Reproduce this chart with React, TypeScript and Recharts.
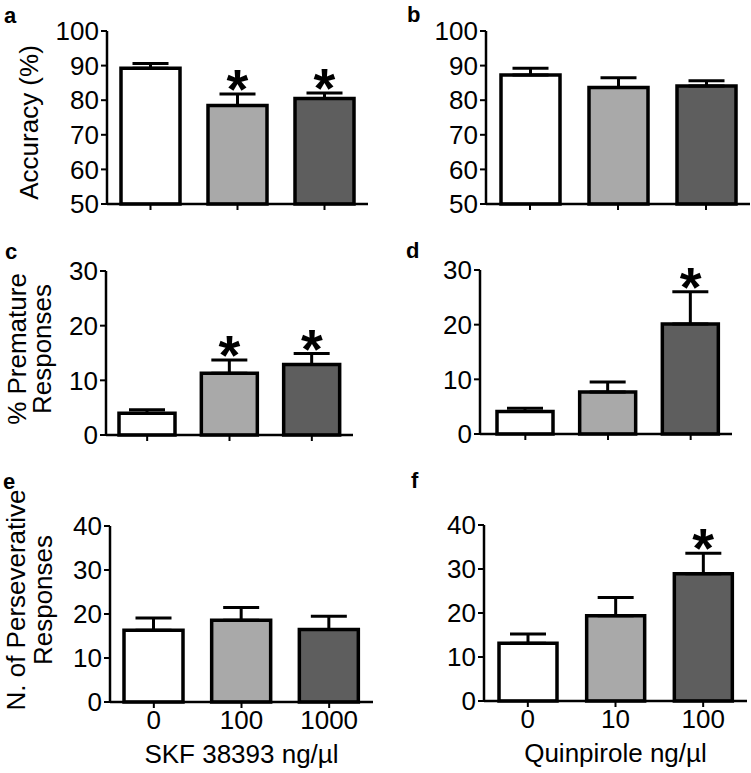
import { ComposedChart, Bar, Cell, ErrorBar, Line, XAxis, YAxis } from "recharts";

const FONT = "'Liberation Sans', Arial, sans-serif";
const FILLS = ["#ffffff", "#a9a9a9", "#5e5e5e"];

const skfDoses = ["0", "100", "1000"];
const quinDoses = ["0", "10", "100"];

// accuracy (%)
const accSkfMean = [89.2, 78.5, 80.5];
const accSkfSem = [1.4, 3.3, 1.6];
const accSkfSig = [false, true, true];
const accQuinMean = [87.3, 83.7, 84.1];
const accQuinSem = [1.9, 2.8, 1.5];
const accQuinSig = [false, false, false];

// % premature responses
const premSkfMean = [4.0, 11.3, 12.9];
const premSkfSem = [0.6, 2.4, 2.0];
const premSkfSig = [false, true, true];
const premQuinMean = [4.1, 7.7, 20.1];
const premQuinSem = [0.6, 1.8, 5.9];
const premQuinSig = [false, false, true];

// n. of perseverative responses
const persSkfMean = [16.3, 18.6, 16.5];
const persSkfSem = [2.8, 2.9, 3.0];
const persSkfSig = [false, false, false];
const persQuinMean = [13.1, 19.4, 28.9];
const persQuinSem = [2.1, 4.1, 4.7];
const persQuinSig = [false, false, true];

const accTicks = [50, 60, 70, 80, 90, 100];
const premTicks = [0, 10, 20, 30];
const persTicks = [0, 10, 20, 30, 40];

type Row = { dose: string; mean: number; err: [number, number]; star: number | null };

const buildRows = (doses: string[], mean: number[], sem: number[], sig: boolean[]): Row[] =>
  doses.map((dose, i) => ({
    dose,
    mean: mean[i],
    err: [0, sem[i]],
    star: sig[i] ? mean[i] + sem[i] : null,
  }));

const StarDot = (props: any) => {
  const { cx, cy, payload } = props;
  if (!payload || payload.star == null || cy == null) return <g key={props.index} />;
  return (
    <text key={props.index} x={cx} y={cy + 14} textAnchor="middle" fontSize={56} fontWeight="bold" fontFamily={FONT} fill="#000">
      *
    </text>
  );
};

type Box = { left: number; top: number; width: number; height: number };
type Plot = { x0: number; x1: number; y0: number; y1: number };

interface PanelProps {
  rows: Row[];
  domain: [number, number];
  ticks: number[];
  cell: Box;
  plot: Plot;
  barSize: number;
  padLeft?: number;
  yTitle?: string[];
  yTitleX?: number[];
  yTitleDy?: number;
  xTitle?: string;
  showXLabels?: boolean;
}

function Panel({ rows, domain, ticks, cell, plot, barSize, padLeft = 0, yTitle, yTitleX, yTitleDy = 0, xTitle, showXLabels }: PanelProps) {
  const margin = {
    top: plot.y0 - cell.top,
    right: cell.left + cell.width - plot.x1,
    left: 0,
    bottom: 0,
  };
  const yAxisWidth = plot.x0 - cell.left;
  const xAxisHeight = cell.top + cell.height - plot.y1;

  const yLabel = (p: any) => {
    if (!yTitle || !yTitleX) return null;
    const vb = p.viewBox;
    const cy = vb.y + vb.height / 2 + yTitleDy;
    return (
      <g>
        {yTitle.map((line, i) => (
          <text
            key={line}
            x={yTitleX[i]}
            y={cy}
            transform={`rotate(-90 ${yTitleX[i]} ${cy})`}
            textAnchor="middle"
            fontSize={26}
            fontFamily={FONT}
            fill="#000"
          >
            {line}
          </text>
        ))}
      </g>
    );
  };

  const xLabel = (p: any) => {
    if (!xTitle) return null;
    const vb = p.viewBox;
    return (
      <text x={vb.x + vb.width / 2} y={vb.y + 61} textAnchor="middle" fontSize={26} fontFamily={FONT} fill="#000">
        {xTitle}
      </text>
    );
  };

  return (
    <div style={{ position: "absolute", left: cell.left, top: cell.top }}>
      <ComposedChart width={cell.width} height={cell.height} data={rows} margin={margin}>
        <XAxis
          dataKey="dose"
          height={xAxisHeight}
          padding={{ left: padLeft, right: 0 }}
          axisLine={{ stroke: "#000", strokeWidth: 2.5 }}
          tickLine={{ stroke: "#000", strokeWidth: 2 }}
          tickSize={6}
          tickMargin={3}
          tick={{ fontSize: 26, fill: "#000", fontFamily: FONT }}
          tickFormatter={(v: string) => (showXLabels ? v : "")}
          interval={0}
          label={xTitle ? { content: xLabel } : undefined}
        />
        <YAxis
          type="number"
          domain={domain}
          ticks={ticks}
          width={yAxisWidth}
          axisLine={{ stroke: "#000", strokeWidth: 2.5 }}
          tickLine={{ stroke: "#000", strokeWidth: 2 }}
          tickSize={6}
          tickMargin={2}
          tick={{ fontSize: 26, fill: "#000", fontFamily: FONT }}
          interval={0}
          label={yTitle ? { content: yLabel } : undefined}
        />
        <Bar dataKey="mean" barSize={barSize} stroke="#000" strokeWidth={3.5} isAnimationActive={false}>
          {rows.map((r, i) => (
            <Cell key={r.dose} fill={FILLS[i]} />
          ))}
          <ErrorBar dataKey="err" width={18} stroke="#000" strokeWidth={3} />
        </Bar>
        <Line
          dataKey="star"
          stroke="none"
          isAnimationActive={false}
          dot={(p: any) => <StarDot key={p.index} {...p} />}
          activeDot={false}
          connectNulls={false}
        />
      </ComposedChart>
    </div>
  );
}

const letterStyle = (left: number, top: number): React.CSSProperties => ({
  position: "absolute",
  left,
  top,
  fontFamily: FONT,
  fontWeight: "bold",
  fontSize: 22,
  lineHeight: "22px",
});

export default function App() {
  return (
    <div style={{ position: "absolute", left: 0, top: 0, width: 751, height: 773, background: "#fff", overflow: "hidden" }}>
      <Panel
        rows={buildRows(skfDoses, accSkfMean, accSkfSem, accSkfSig)}
        domain={[50, 100]}
        ticks={accTicks}
        cell={{ left: 0, top: 0, width: 378, height: 230 }}
        plot={{ x0: 107, x1: 368, y0: 31, y1: 204 }}
        barSize={59}
        yTitle={["Accuracy (%)"]}
        yTitleX={[38]}
        yTitleDy={5}
      />
      <Panel
        rows={buildRows(quinDoses, accQuinMean, accQuinSem, accQuinSig)}
        domain={[50, 100]}
        ticks={accTicks}
        cell={{ left: 378, top: 0, width: 373, height: 230 }}
        plot={{ x0: 486, x1: 750, y0: 31, y1: 204 }}
        barSize={59}
      />
      <Panel
        rows={buildRows(skfDoses, premSkfMean, premSkfSem, premSkfSig)}
        domain={[0, 30]}
        ticks={premTicks}
        cell={{ left: 0, top: 235, width: 378, height: 225 }}
        plot={{ x0: 106, x1: 353, y0: 271, y1: 435 }}
        barSize={56}
        yTitle={["% Premature", "Responses"]}
        yTitleX={[26, 51]}
        yTitleDy={-4}
      />
      <Panel
        rows={buildRows(quinDoses, premQuinMean, premQuinSem, premQuinSig)}
        domain={[0, 30]}
        ticks={premTicks}
        cell={{ left: 378, top: 235, width: 373, height: 225 }}
        plot={{ x0: 480, x1: 732, y0: 270, y1: 434 }}
        barSize={56}
        padLeft={4}
      />
      <Panel
        rows={buildRows(skfDoses, persSkfMean, persSkfSem, persSkfSig)}
        domain={[0, 40]}
        ticks={persTicks}
        cell={{ left: 0, top: 465, width: 378, height: 308 }}
        plot={{ x0: 110, x1: 373, y0: 526, y1: 702 }}
        barSize={59}
        yTitle={["N. of Perseverative", "Responses"]}
        yTitleX={[25, 52]}
        yTitleDy={-14}
        xTitle="SKF 38393 ng/µl"
        showXLabels
      />
      <Panel
        rows={buildRows(quinDoses, persQuinMean, persQuinSem, persQuinSig)}
        domain={[0, 40]}
        ticks={persTicks}
        cell={{ left: 378, top: 465, width: 373, height: 308 }}
        plot={{ x0: 484, x1: 747, y0: 525, y1: 701 }}
        barSize={58}
        xTitle="Quinpirole ng/µl"
        showXLabels
      />
      <div style={letterStyle(4, 5)}>a</div>
      <div style={letterStyle(407, 4)}>b</div>
      <div style={letterStyle(5, 241)}>c</div>
      <div style={letterStyle(406, 240)}>d</div>
      <div style={letterStyle(3, 471)}>e</div>
      <div style={letterStyle(411, 470)}>f</div>
    </div>
  );
}
